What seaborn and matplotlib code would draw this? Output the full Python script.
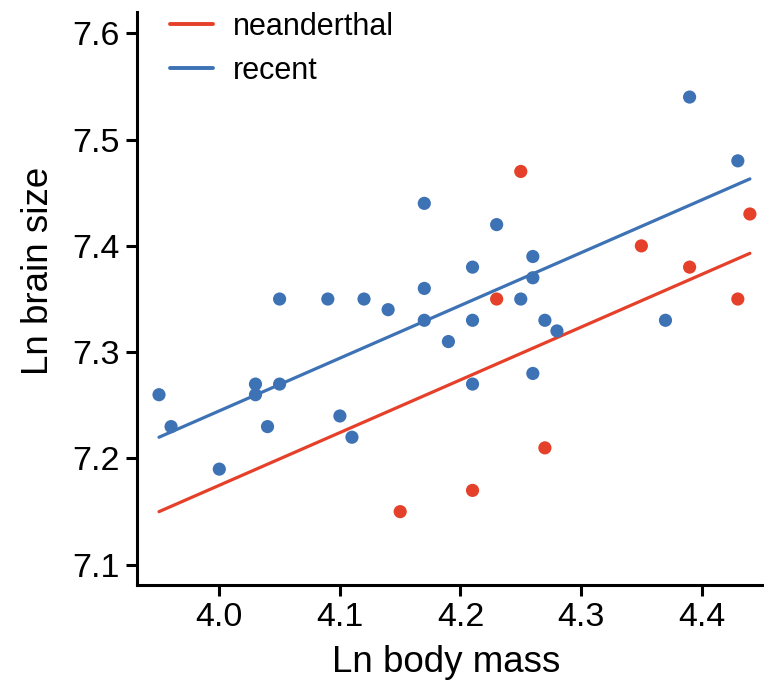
import matplotlib
matplotlib.use("Agg")
import matplotlib.pyplot as plt
import seaborn as sns
import pandas as pd

# ---- data ----
recent_mass = [3.95, 3.96, 4.00, 4.03, 4.03, 4.04, 4.05, 4.05, 4.09, 4.10,
               4.11, 4.12, 4.14, 4.17, 4.17, 4.17, 4.19, 4.21, 4.21, 4.21,
               4.23, 4.25, 4.26, 4.26, 4.26, 4.27, 4.28, 4.37, 4.39, 4.43]
recent_brain = [7.26, 7.23, 7.19, 7.27, 7.26, 7.23, 7.27, 7.35, 7.35, 7.24,
                7.22, 7.35, 7.34, 7.44, 7.36, 7.33, 7.31, 7.38, 7.33, 7.27,
                7.42, 7.35, 7.39, 7.37, 7.28, 7.33, 7.32, 7.33, 7.54, 7.48]
nean_mass = [4.15, 4.21, 4.23, 4.25, 4.27, 4.35, 4.39, 4.43, 4.44]
nean_brain = [7.15, 7.17, 7.35, 7.47, 7.21, 7.40, 7.38, 7.35, 7.43]

# fitted (parallel) regression lines
line_x = [3.95, 4.44]
line_recent = [7.220, 7.463]
line_nean = [7.150, 7.393]

groups = ["neanderthal", "recent"]
x_ticks = [4.0, 4.1, 4.2, 4.3, 4.4]
y_ticks = [7.1, 7.2, 7.3, 7.4, 7.5, 7.6]

RED = "#E5402A"
BLUE = "#3D72B5"
palette = {"neanderthal": RED, "recent": BLUE}

pts = pd.DataFrame({
    "mass": nean_mass + recent_mass,
    "brain": nean_brain + recent_brain,
    "group": ["neanderthal"] * len(nean_mass) + ["recent"] * len(recent_mass),
})
lines = pd.DataFrame({
    "mass": line_x + line_x,
    "brain": line_nean + line_recent,
    "group": ["neanderthal"] * 2 + ["recent"] * 2,
})

sns.set_theme(style="ticks")
plt.rcParams["font.family"] = ["Liberation Sans", "DejaVu Sans"]

fig = plt.figure(figsize=(7.64, 6.83), dpi=100)
ax = fig.add_axes([136.7 / 764, 98 / 683, (764 - 136.7) / 764, 573 / 683])

sns.scatterplot(data=pts, x="mass", y="brain", hue="group", hue_order=groups,
                palette=palette, s=90, edgecolor="none", legend=False, ax=ax,
                zorder=3)
sns.lineplot(data=lines, x="mass", y="brain", hue="group", hue_order=groups,
             palette=palette, linewidth=2.3, ax=ax, zorder=2)

ax.set_xlim(3.9315, 4.4517)
ax.set_ylim(7.081, 7.62)
ax.set_xticks(x_ticks)
ax.set_xticklabels([f"{v:.1f}" for v in x_ticks])
ax.set_yticks(y_ticks)
ax.set_yticklabels([f"{v:.1f}" for v in y_ticks])

for side in ["top", "right"]:
    ax.spines[side].set_visible(False)
for side in ["left", "bottom"]:
    ax.spines[side].set_linewidth(2.2)
    ax.spines[side].set_color("black")
ax.tick_params(axis="both", which="major", length=8, width=2.2, color="black",
               labelsize=24.5, labelcolor="black", pad=4)

ax.set_xlabel("Ln body mass", fontsize=26.5, color="black")
ax.set_ylabel("Ln brain size", fontsize=26.5, color="black")
ax.xaxis.set_label_coords(0.494, -0.104)
ax.yaxis.set_label_coords(-0.128, 0.548)

handles, labels = ax.get_legend_handles_labels()
leg = ax.legend(handles, labels, loc="upper left", bbox_to_anchor=(0.053, 1.0),
                frameon=False, fontsize=22, handlelength=1.4,
                handletextpad=0.65, labelspacing=0.45, borderpad=0,
                borderaxespad=0)
for t in leg.get_texts():
    t.set_color("black")
for h in leg.get_lines():
    h.set_linewidth(2.8)

fig.savefig("out.png", dpi=100)
